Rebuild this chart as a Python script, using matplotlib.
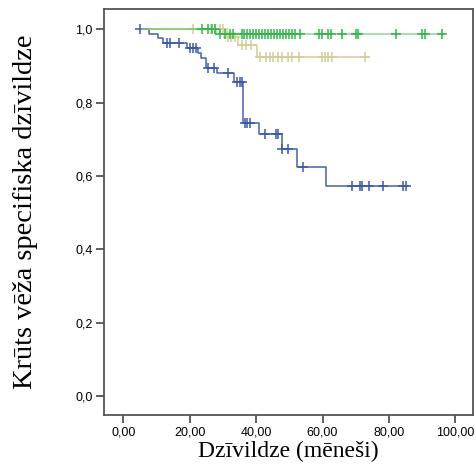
import numpy as np
import matplotlib.pyplot as plt

# Kaplan-Meier curves (time in months, survival share)
blue_start, blue_end = 5.0, 85.7
blue_steps = [7.7, 10.5, 12.0, 19.3, 22.6, 23.5, 24.8, 28.3, 33.2, 36.0, 40.9, 47.8, 52.2, 61.0]
blue_levels = [0.987, 0.975, 0.963, 0.948, 0.935, 0.922, 0.894, 0.880, 0.857, 0.745, 0.713, 0.674, 0.625, 0.573]
blue_cens = [5.0, 13.1, 14.0, 16.8, 20.0, 21.0, 22.0, 25.6, 27.2, 31.6, 34.1, 35.1,
             35.8, 36.6, 37.4, 38.2, 42.8, 46.1, 46.6, 47.9, 49.6, 54.0,
             69.0, 71.2, 72.0, 73.9, 78.2, 84.2, 85.0]

green_start, green_end = 5.5, 96.7
green_steps = [28.0]
green_levels = [0.987]
green_cens = [23.6, 25.6, 26.6, 27.6, 29.0, 30.5, 32.0, 33.0,
              35.6, 36.5, 37.4, 38.3, 39.2, 40.1, 41.0, 41.9, 42.8, 43.7, 44.6,
              45.5, 46.4, 47.3, 48.2, 49.1, 50.0, 50.9, 51.8, 53.1,
              58.9, 59.7, 61.7, 62.4, 66.0, 70.0, 70.7, 82.0, 90.0, 90.7, 95.9]

tan_start, tan_end = 5.5, 74.0
tan_steps = [31.1, 34.6, 40.4]
tan_levels = [0.980, 0.958, 0.923]
tan_cens = [21.0, 26.5, 27.5, 29.0, 30.0, 31.5, 32.5, 33.5, 35.6, 37.1, 38.6,
            41.1, 42.9, 44.1, 45.0, 46.5, 47.7, 49.5, 50.7, 52.8,
            59.7, 60.7, 61.7, 62.8, 72.9]

x_ticks = [0, 20, 40, 60, 80, 100]
x_labels = ['0,00', '20,00', '40,00', '60,00', '80,00', '100,00']
y_ticks = [0.0, 0.2, 0.4, 0.6, 0.8, 1.0]
y_labels = ['0,0', '0,2', '0,4', '0,6', '0,8', '1,0']

fig = plt.figure(figsize=(4.76, 4.65), dpi=100)
ax = fig.add_axes([0.2185, 0.1075, 0.7752, 0.8731])


def km(ax, start, end, steps, levels, cens, color, alpha):
    t = [start] + steps + [end]
    s = [1.0] + levels + [levels[-1]]
    ax.step(t, s, where='post', color=color, lw=1.1, alpha=alpha)
    lv = np.array([1.0] + levels)
    cy = lv[np.searchsorted(steps, cens, side='right')]
    ax.plot(cens, cy, ls='none', marker='+', ms=7, mew=1.1, color=color)


km(ax, blue_start, blue_end, blue_steps, blue_levels, blue_cens, '#3E58AC', 0.95)
km(ax, tan_start, tan_end, tan_steps, tan_levels, tan_cens, '#D3CE97', 1.0)
km(ax, green_start, green_end, green_steps, green_levels, green_cens, '#2EB848', 0.55)

ax.set_xlim(-5.8, 105.3)
ax.set_ylim(-0.052, 1.055)
ax.set_xticks(x_ticks)
ax.set_xticklabels(x_labels, family='Liberation Sans', fontsize=9)
ax.set_yticks(y_ticks)
ax.set_yticklabels(y_labels, family='Liberation Sans', fontsize=9)
ax.tick_params(direction='out', length=6, width=1.2, color='#444444', pad=2)
for sp in ax.spines.values():
    sp.set_color('#555555')
    sp.set_linewidth(1.3)

ax.set_xlabel('Dzīvildze (mēneši)', family='Liberation Serif', fontsize=17, labelpad=2)
ax.set_ylabel('Krūts vēža specifiska dzīvildze', family='Liberation Serif', fontsize=20.5, labelpad=27)

fig.savefig('out.png', dpi=100)
